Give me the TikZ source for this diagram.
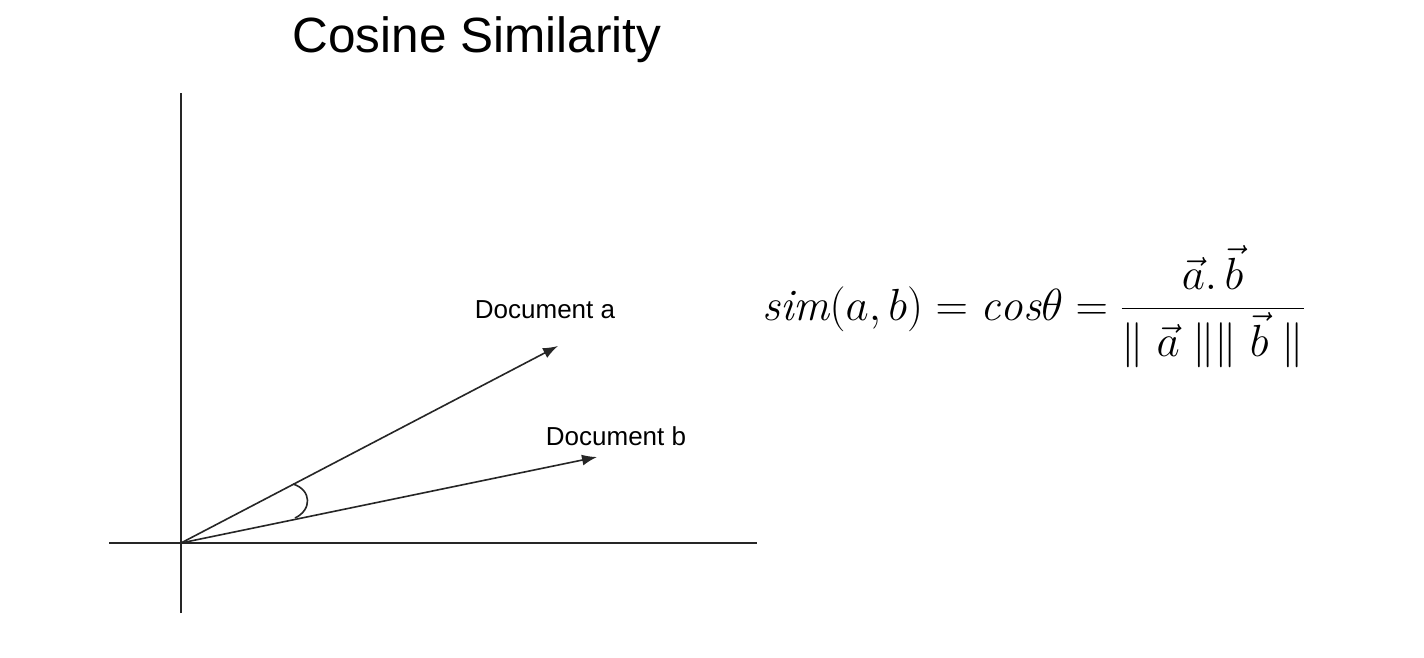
\RequirePackage{fix-cm}
\documentclass[tikz,border=0pt]{standalone}
\usepackage{amsmath}
\usepackage{fontspec}
\newfontfamily\labelfont{Liberation Sans}
\usetikzlibrary{arrows.meta}
\tikzset{
  axis/.style={line width=1.6pt, draw=black!85},
  vecline/.style={line width=1.6pt, draw=black!85, -{Latex[length=15pt,width=11pt]}},
  anglearc/.style={line width=1.6pt, draw=black!85},
  doclabel/.style={font=\labelfont\fontsize{26}{30}\selectfont, inner sep=0pt},
  titlelabel/.style={font=\labelfont\fontsize{49.5}{58}\selectfont, inner sep=0pt},
  formula/.style={font=\fontsize{45}{52}\selectfont, inner sep=0pt}
}
\begin{document}
\begin{tikzpicture}[x=1pt,y=-1pt]
\useasboundingbox (0,0) rectangle (1424,658);
\fill[white] (0,0) rectangle (1424,658);
\coordinate (O) at (181,543);
\coordinate (ytop) at (181,93);
\coordinate (ybot) at (181,613);
\coordinate (xleft) at (109,543);
\coordinate (xright) at (757,543);
\coordinate (A) at (558,346);
\coordinate (B) at (597,457);
\coordinate (arcA) at (293,484);
\coordinate (arcB) at (295,518);
\draw[axis] (ybot) -- (ytop);
\draw[axis] (xleft) -- (xright);
\draw[vecline] (O) -- (A);
\draw[vecline] (O) -- (B);
\draw[anglearc] (arcA) .. controls (312,490) and (312,510) .. (arcB);
\node[titlelabel, anchor=base] (title) at (477,53) {Cosine Similarity};
\node[doclabel, anchor=base] (la) at (545,318) {Document a};
\node[doclabel, anchor=base] (lb) at (616,445) {Document b};
\node[formula, anchor=base west] (eq) at (762,320) {$\mathit{sim}(a,b)=\mathit{cos}\theta=\dfrac{\vec{a}.\,\vec{b}}{\|\;\vec{a}\;\|\|\;\vec{b}\;\|}$};
\end{tikzpicture}
\end{document}
